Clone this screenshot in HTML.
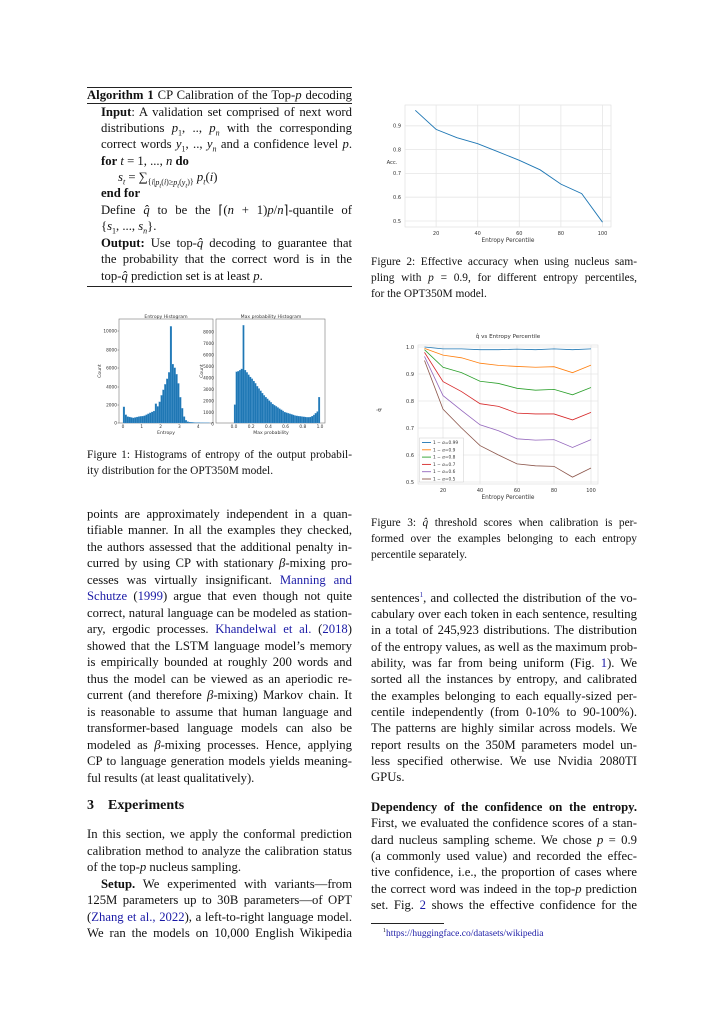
<!DOCTYPE html>
<html><head><meta charset="utf-8"><style>
body{margin:0;background:#fff;}
#p{position:relative;width:724px;height:1024px;overflow:hidden;font-family:"Liberation Serif",serif;font-size:12.7px;color:#111;}
.ln{position:absolute;height:16px;line-height:16px;white-space:nowrap;text-align:justify;text-align-last:justify;}
.L{left:87px;width:265px}.R{left:371px;width:266px}
.e{text-align-last:left}
.c{font-size:11.4px}
a{color:#1a1aa6;text-decoration:none}
i{font-style:italic}
sub,sup{line-height:0}
.hr{position:absolute;background:#222;height:1px}
svg{position:absolute;left:0;top:0}
svg text{font-family:"DejaVu Sans",sans-serif;fill:#333}
</style></head><body><div id="p">
<div class="hr" style="left:87px;top:87px;width:265px;height:1.2px"></div>
<div class="ln L" style="top:87px"><b>Algorithm 1</b> CP Calibration of the Top-<i>p</i> decoding</div>
<div class="hr" style="left:87px;top:103px;width:265px;height:0.8px"></div>
<div class="ln L" style="top:104px;left:101px;width:251px"><b>Input</b>: A validation set comprised of next word</div>
<div class="ln L" style="top:120px;left:101px;width:251px">distributions <i>p</i><sub style="font-size:8px">1</sub>, .., <i>p<sub style="font-size:8px">n</sub></i> with the corresponding</div>
<div class="ln L" style="top:136px;left:101px;width:251px">correct words <i>y</i><sub style="font-size:8px">1</sub>, .., <i>y<sub style="font-size:8px">n</sub></i> and a confidence level <i>p</i>.</div>
<div class="ln L e" style="top:153px;left:101px"><b>for</b> <i>t</i> = 1, ..., <i>n</i> <b>do</b></div>
<div class="ln L e" style="top:169px;left:118px"><i>s<sub style="font-size:8px">t</sub></i> = ∑<sub style="font-size:8px">{<i>i</i>|<i>p<sub>t</sub></i>(<i>i</i>)≥<i>p<sub>t</sub></i>(<i>y<sub>t</sub></i>)}</sub> <i>p<sub style="font-size:8px">t</sub></i>(<i>i</i>)</div>
<div class="ln L e" style="top:185px;left:101px"><b>end for</b></div>
<div class="ln L" style="top:202px;left:101px;width:251px">Define <i>q̂</i> to be the ⌈(<i>n</i> + 1)<i>p</i>/<i>n</i>⌉-quantile of</div>
<div class="ln L e" style="top:218px;left:101px">{<i>s</i><sub style="font-size:8px">1</sub>, ..., <i>s<sub style="font-size:8px">n</sub></i>}.</div>
<div class="ln L" style="top:235px;left:101px;width:251px"><b>Output:</b> Use top-<i>q̂</i> decoding to guarantee that</div>
<div class="ln L" style="top:251px;left:101px;width:251px">the probability that the correct word is in the</div>
<div class="ln L e" style="top:268px;left:101px">top-<i>q̂</i> prediction set is at least <i>p</i>.</div>
<div class="hr" style="left:87px;top:286px;width:265px;height:0.8px"></div>

<div class="ln L c" style="top:447px">Figure 1: Histograms of entropy of the output probabil-</div>
<div class="ln L c e" style="top:463px">ity distribution for the OPT350M model.</div>

<div class="ln L" style="top:506px">points are approximately independent in a quan-</div>
<div class="ln L" style="top:522px">tifiable manner. In all the examples they checked,</div>
<div class="ln L" style="top:539px">the authors assessed that the additional penalty in-</div>
<div class="ln L" style="top:555px">curred by using CP with stationary <i>β</i>-mixing pro-</div>
<div class="ln L" style="top:572px">cesses was virtually insignificant. <a>Manning and</a></div>
<div class="ln L" style="top:588px"><a>Schutze</a> (<a>1999</a>) argue that even though not quite</div>
<div class="ln L" style="top:605px">correct, natural language can be modeled as station-</div>
<div class="ln L" style="top:621px">ary, ergodic processes. <a>Khandelwal et al.</a> (<a>2018</a>)</div>
<div class="ln L" style="top:638px">showed that the LSTM language model’s memory</div>
<div class="ln L" style="top:654px">is empirically bounded at roughly 200 words and</div>
<div class="ln L" style="top:671px">thus the model can be viewed as an aperiodic re-</div>
<div class="ln L" style="top:687px">current (and therefore <i>β</i>-mixing) Markov chain. It</div>
<div class="ln L" style="top:704px">is reasonable to assume that human language and</div>
<div class="ln L" style="top:720px">transformer-based language models can also be</div>
<div class="ln L" style="top:737px">modeled as <i>β</i>-mixing processes. Hence, applying</div>
<div class="ln L" style="top:753px">CP to language generation models yields meaning-</div>
<div class="ln L e" style="top:770px">ful results (at least qualitatively).</div>

<div class="ln L e" style="top:798px;font-size:14px;font-weight:bold">3&nbsp;&nbsp;&nbsp;&nbsp;Experiments</div>
<div class="ln L" style="top:826px">In this section, we apply the conformal prediction</div>
<div class="ln L" style="top:843px">calibration method to analyze the calibration status</div>
<div class="ln L e" style="top:859px">of the top-<i>p</i> nucleus sampling.</div>
<div class="ln L" style="top:876px;left:101px;width:251px"><b>Setup.</b> We experimented with variants—from</div>
<div class="ln L" style="top:892px">125M parameters up to 30B parameters—of OPT</div>
<div class="ln L" style="top:909px">(<a>Zhang et al., 2022</a>), a left-to-right language model.</div>
<div class="ln L" style="top:925px">We ran the models on 10,000 English Wikipedia</div>

<div class="ln R c" style="top:254px">Figure 2: Effective accuracy when using nucleus sam-</div>
<div class="ln R c" style="top:270px">pling with <i>p</i> = 0.9, for different entropy percentiles,</div>
<div class="ln R c e" style="top:286px">for the OPT350M model.</div>

<div class="ln R c" style="top:515px">Figure 3: <i>q̂</i> threshold scores when calibration is per-</div>
<div class="ln R c" style="top:531px">formed over the examples belonging to each entropy</div>
<div class="ln R c e" style="top:547px">percentile separately.</div>

<div class="ln R" style="top:590px">sentences<sup style="font-size:7px;color:#1a1aa6">1</sup>, and collected the distribution of the vo-</div>
<div class="ln R" style="top:606px">cabulary over each token in each sentence, resulting</div>
<div class="ln R" style="top:622px">in a total of 245,923 distributions. The distribution</div>
<div class="ln R" style="top:639px">of the entropy values, as well as the maximum prob-</div>
<div class="ln R" style="top:655px">ability, was far from being uniform (Fig. <a>1</a>). We</div>
<div class="ln R" style="top:671px">sorted all the instances by entropy, and calibrated</div>
<div class="ln R" style="top:688px">the examples belonging to each equally-sized per-</div>
<div class="ln R" style="top:704px">centile independently (from 0-10% to 90-100%).</div>
<div class="ln R" style="top:720px">The patterns are highly similar across models. We</div>
<div class="ln R" style="top:737px">report results on the 350M parameters model un-</div>
<div class="ln R" style="top:753px">less specified otherwise. We use Nvidia 2080TI</div>
<div class="ln R e" style="top:769px">GPUs.</div>
<div class="ln R" style="top:799px"><b>Dependency of the confidence on the entropy.</b></div>
<div class="ln R" style="top:815px">First, we evaluated the confidence scores of a stan-</div>
<div class="ln R" style="top:832px">dard nucleus sampling scheme. We chose <i>p</i> = 0.9</div>
<div class="ln R" style="top:848px">(a commonly used value) and recorded the effec-</div>
<div class="ln R" style="top:864px">tive confidence, i.e., the proportion of cases where</div>
<div class="ln R" style="top:881px">the correct word was indeed in the top-<i>p</i> prediction</div>
<div class="ln R" style="top:897px">set. Fig. <a>2</a> shows the effective confidence for the</div>
<div class="hr" style="left:371px;top:923px;width:73px;height:0.7px"></div>
<div class="ln R e" style="top:926px;left:383px;font-size:9.5px"><sup style="font-size:6px">1</sup><a>https://huggingface.co/datasets/wikipedia</a></div>

<svg id="s" width="724" height="1024"></svg>
</div>
<script>
var s=document.getElementById('s'),h='';
function T(x,y,t,fs,a,extra){h+='<text x="'+x+'" y="'+y+'" font-size="'+fs+'" text-anchor="'+(a||'middle')+'" '+(extra||'')+'>'+t+'</text>';}
function R(x,y,w,hh,f,st){h+='<rect x="'+x+'" y="'+y+'" width="'+w+'" height="'+hh+'" fill="'+f+'" '+(st||'')+'/>';}
function Lx(x1,y1,x2,y2,c,w){h+='<line x1="'+x1+'" y1="'+y1+'" x2="'+x2+'" y2="'+y2+'" stroke="'+c+'" stroke-width="'+w+'"/>';}
var ent=[1.75,0.9,0.7,0.65,0.6,0.55,0.6,0.65,0.7,0.72,0.75,0.8,0.9,1.0,1.1,1.2,1.3,2.1,1.8,2.3,3.0,3.6,4.2,4.8,5.5,10.5,6.4,6.0,5.3,4.3,2.8,1.6,0.7,0.3,0.15,0.1,0.08,0.06,0.05,0.05,0.05,0.04,0.04,0.03,0.03,0.03];
R(119,319,94,104,'#fff','stroke="#777" stroke-width="0.6"');
for(var i=0;i<ent.length;i++){var v=ent[i]*9.2;R(123+i*1.88,423-v,1.88,v,'#1f77b4','stroke="#5aa0d8" stroke-width="0.2"');}
[[0,423],[2000,405],[4000,387],[6000,368],[8000,350],[10000,331]].forEach(function(t){T(117,t[1]+1.5,t[0],4.3,'end');Lx(117.5,t[1],119,t[1],'#333',0.4);});
[0,1,2,3,4].forEach(function(k){var x=123+k*18.8;T(x,428,k,4.3);});
T(166,318,'Entropy Histogram',4.6);T(166,434,'Entropy',4.6);T(101,371,'Count',4.6,'middle','transform="rotate(-90 101 371)"');
var mp=[1.6,4.45,4.5,4.6,4.7,8.5,4.6,4.4,4.2,4.0,3.85,3.65,3.45,3.2,3.0,2.8,2.6,2.4,2.25,2.1,1.95,1.8,1.65,1.55,1.45,1.35,1.25,1.15,1.05,0.95,0.9,0.85,0.8,0.75,0.7,0.65,0.62,0.6,0.58,0.56,0.54,0.52,0.5,0.5,0.52,0.6,0.7,0.85,1.0,2.25];
R(216,319,109,104,'#fff','stroke="#777" stroke-width="0.6"');
for(var i=0;i<mp.length;i++){var v=mp[i]*11.5;R(234+i*1.72,423-v,1.72,v,'#1f77b4','stroke="#5aa0d8" stroke-width="0.2"');}
for(var k=0;k<=8;k++){var y=424-k*11.5;T(214,y+1.5,k*1000,4.3,'end');}
[0,0.2,0.4,0.6,0.8,1.0].forEach(function(v){T(234+v*86,428,v.toFixed(1),4.3);});
T(271,318,'Max probability Histogram',4.6);T(271,434,'Max probability',4.6);T(203,371,'Count',4.6,'middle','transform="rotate(-90 203 371)"');
R(405,105,206,122,'#fff','stroke="#ddd" stroke-width="0.6"');
var a=[0.965,0.885,0.85,0.825,0.79,0.755,0.715,0.655,0.615,0.495];
[0.5,0.6,0.7,0.8,0.9].forEach(function(v){var y=221-(v-0.5)*238;Lx(405,y,611,y,'#e6e6e6',0.8);T(401,y+1.8,v.toFixed(1),5,'end');});
[20,40,60,80,100].forEach(function(p){var x=394.5+p*2.08;Lx(x,105,x,227,'#e6e6e6',0.8);T(x,235,p,5);});
var pts=a.map(function(v,i){return (394.5+(i+1)*20.8)+','+(221-(v-0.5)*238);}).join(' ');
h+='<polyline points="'+pts+'" fill="none" stroke="#1f77b4" stroke-width="0.9"/>';
T(392,164,'Acc.',5.2);T(508,242,'Entropy Percentile',5.8);
R(418,345,180,139,'#fff','stroke="#ddd" stroke-width="0.6"');
[0.5,0.6,0.7,0.8,0.9,1.0].forEach(function(v){var y=482-(v-0.5)*270;Lx(418,y,598,y,'#e6e6e6',0.8);T(414,y+1.8,v.toFixed(1),5,'end');});
[20,40,60,80,100].forEach(function(p){var x=406+p*1.85;Lx(x,345,x,484,'#e6e6e6',0.8);T(x,492,p,5);});
var D=[[1.0,0.993,0.993,0.99,0.99,0.992,0.99,0.993,0.99,0.993],
[0.995,0.97,0.96,0.94,0.932,0.928,0.925,0.927,0.905,0.933],
[0.99,0.925,0.905,0.873,0.865,0.847,0.84,0.843,0.823,0.85],
[0.98,0.872,0.835,0.79,0.78,0.755,0.752,0.752,0.73,0.758],
[0.965,0.82,0.765,0.712,0.69,0.66,0.655,0.657,0.628,0.657],
[0.95,0.77,0.70,0.635,0.60,0.567,0.56,0.558,0.518,0.552]];
var C=['#1f77b4','#ff7f0e','#2ca02c','#d62728','#9467bd','#8c564b'],N=['0.99','0.9','0.8','0.7','0.6','0.5'];
D.forEach(function(d,j){var pts=d.map(function(v,i){return (406+(i+1)*18.5)+','+(482-(v-0.5)*270);}).join(' ');
h+='<polyline points="'+pts+'" fill="none" stroke="'+C[j]+'" stroke-width="0.8"/>';});
R(419.5,438,44,44,'#fff','fill-opacity="0.85" stroke="#ccc" stroke-width="0.5"');
D.forEach(function(d,j){var y=442.5+j*7.3;Lx(422,y,431,y,C[j],0.9);T(433,y+1.5,'1 − <tspan font-style="italic">α</tspan>='+N[j],4.3,'start');});
T(508,338,'q̂ vs Entropy Percentile',5.6);T(508,499,'Entropy Percentile',5.8);T(381,410,'q̂',5.6,'middle','transform="rotate(-90 381 410)"');
s.innerHTML=h;
</script>
</body></html>
